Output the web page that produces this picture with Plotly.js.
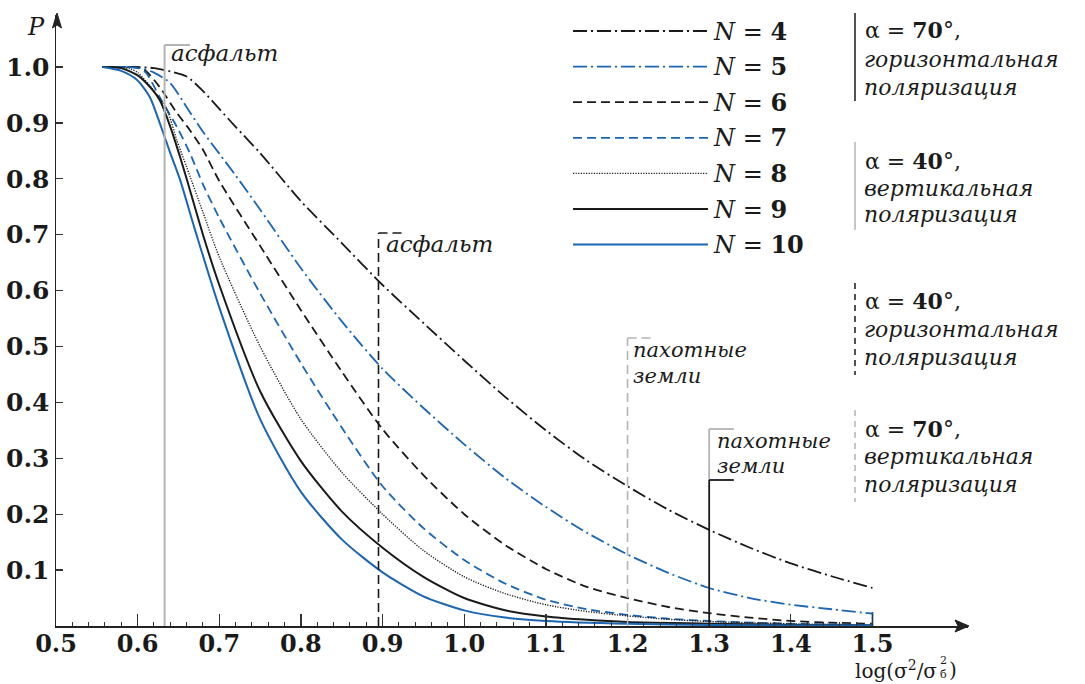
<!DOCTYPE html>
<html>
<head>
<meta charset="utf-8">
<script src="https://cdn.plot.ly/plotly-3.0.1.min.js"></script>
<style>html,body{margin:0;padding:0;background:#fff;}#chart{width:1085px;height:684px;}</style>
</head>
<body>
<div id="chart"></div>
<script>
// ---- data ----
const x4 = [0.557,0.60,0.62,0.64,0.66,0.68,0.70,0.72,0.75,0.80,0.85,0.90,0.95,1.00,1.05,1.10,1.15,1.20,1.25,1.30,1.35,1.40,1.45,1.50];
const y4 = [1.0,1.0,0.998,0.992,0.983,0.957,0.925,0.893,0.846,0.760,0.685,0.610,0.542,0.475,0.410,0.350,0.296,0.250,0.208,0.172,0.140,0.112,0.089,0.068];
const x5 = [0.557,0.60,0.62,0.64,0.66,0.68,0.70,0.72,0.75,0.80,0.85,0.90,0.95,1.00,1.05,1.10,1.15,1.20,1.25,1.30,1.35,1.40,1.45,1.50];
const y5 = [1.0,0.999,0.99,0.971,0.928,0.884,0.845,0.806,0.745,0.64,0.545,0.46,0.39,0.325,0.265,0.213,0.167,0.128,0.095,0.068,0.05,0.038,0.03,0.022];
const x6 = [0.557,0.60,0.61,0.627,0.648,0.664,0.68,0.70,0.75,0.80,0.85,0.90,0.95,1.00,1.05,1.10,1.15,1.20,1.25,1.30,1.35,1.40,1.45,1.50];
const y6 = [1.0,0.999,0.993,0.964,0.918,0.887,0.852,0.796,0.68,0.565,0.455,0.352,0.27,0.2,0.145,0.102,0.07,0.05,0.034,0.023,0.015,0.009,0.006,0.004];
const x7 = [0.557,0.60,0.61,0.627,0.648,0.664,0.68,0.70,0.75,0.80,0.85,0.90,0.95,1.00,1.05,1.10,1.15,1.20,1.25,1.30,1.40,1.50];
const y7 = [1.0,0.998,0.99,0.946,0.893,0.846,0.79,0.73,0.595,0.47,0.355,0.25,0.175,0.118,0.076,0.047,0.03,0.02,0.013,0.009,0.004,0.002];
const x8 = [0.557,0.59,0.60,0.619,0.636,0.648,0.66,0.68,0.70,0.75,0.80,0.85,0.90,0.95,1.00,1.05,1.10,1.15,1.20,1.25,1.30,1.40,1.50];
const y8 = [1.0,0.997,0.99,0.959,0.923,0.869,0.821,0.74,0.66,0.50,0.37,0.275,0.2,0.135,0.088,0.058,0.038,0.026,0.018,0.012,0.008,0.004,0.002];
const x9 = [0.557,0.58,0.60,0.611,0.627,0.64,0.652,0.66,0.68,0.70,0.75,0.80,0.85,0.90,0.95,1.00,1.05,1.10,1.15,1.20,1.30,1.40,1.50];
const y9 = [1.0,0.998,0.985,0.971,0.941,0.893,0.839,0.80,0.70,0.61,0.42,0.295,0.205,0.14,0.088,0.05,0.028,0.017,0.011,0.007,0.004,0.002,0.001];
const x10 = [0.557,0.58,0.599,0.615,0.627,0.64,0.652,0.67,0.70,0.75,0.80,0.85,0.90,0.95,1.00,1.05,1.10,1.20,1.30,1.40,1.50];
const y10 = [1.0,0.993,0.977,0.946,0.90,0.846,0.798,0.71,0.57,0.37,0.24,0.155,0.096,0.053,0.028,0.015,0.009,0.004,0.002,0.001,0.001];
const edgeX = [1.5, 1.5];
const edgeY = [0.0, 0.025];

const seriesNames = ['N = 4','N = 5','N = 6','N = 7','N = 8','N = 9','N = 10'];
const xTickVals = [0.5,0.6,0.7,0.8,0.9,1.0,1.1,1.2,1.3,1.4,1.5];
const xTickText = ['0.5','0.6','0.7','0.8','0.9','1.0','1.1','1.2','1.3','1.4','1.5'];
const yTickVals = [0.1,0.2,0.3,0.4,0.5,0.6,0.7,0.8,0.9,1.0];
const yTickText = ['0.1','0.2','0.3','0.4','0.5','0.6','0.7','0.8','0.9','1.0'];
// vertical markers: surface type at x positions
const asphalt70H = 0.633, asphalt40V = 0.895, arable40H = 1.2, arable70V = 1.3;

// ---- styles ----
const BLK = '#1a1a1a', BLU = '#1a66b2', GRY = '#b4b4b4';
const styles = [
  {color:BLK, width:1.8, dash:'14px,4px,2px,4px'},
  {color:BLU, width:1.8, dash:'14px,4px,2px,4px'},
  {color:BLK, width:1.8, dash:'9px,5px'},
  {color:BLU, width:1.8, dash:'9px,5px'},
  {color:BLK, width:1.4, dash:'1.2px,1.4px'},
  {color:BLK, width:2.0, dash:'solid'},
  {color:BLU, width:2.0, dash:'solid'}
];
const xs = [x4,x5,x6,x7,x8,x9,x10], ys = [y4,y5,y6,y7,y8,y9,y10];
const traces = xs.map((x,i)=>({x:x, y:ys[i], type:'scatter', mode:'lines', name:seriesNames[i],
  line:{color:styles[i].color, width:styles[i].width, dash:styles[i].dash, shape:'spline', smoothing:0.7},
  showlegend:false, hoverinfo:'skip'}));
traces.push({x:edgeX, y:edgeY, type:'scatter', mode:'lines', line:{color:BLU, width:1.8}, showlegend:false, hoverinfo:'skip'});

// pixel -> paper helpers (plot area: left 56, top 15, width 912, height 611)
const PX = p => (p-56)/912, PY = p => (626-p)/611;

const shapes = [];
const annotations = [];
const F = 'DejaVu Serif';

// legend
const legY0 = 31, legDY = 35.6;
seriesNames.forEach((nm,i)=>{
  const y = legY0 + legDY*i;
  shapes.push({type:'line', xref:'paper', yref:'paper', x0:PX(573), x1:PX(708), y0:PY(y), y1:PY(y),
    line:{color:styles[i].color, width:styles[i].width, dash:styles[i].dash}});
  const num = nm.split('= ')[1];
  annotations.push({xref:'paper', yref:'paper', x:PX(711), y:PY(y), xanchor:'left', yanchor:'middle', showarrow:false,
    text:'<i>N</i> = <b>'+num+'</b>', font:{family:F, size:24, color:BLK}});
});

// vertical markers
const yDat = p => (626-p)/559;
const xDat = p => 0.5 + (p-56)/816.7;
shapes.push({type:'line', xref:'x', yref:'y', x0:asphalt70H, x1:asphalt70H, y0:0, y1:yDat(45), line:{color:GRY, width:2}});
shapes.push({type:'line', xref:'x', yref:'y', x0:asphalt70H, x1:xDat(190), y0:yDat(45), y1:yDat(45), line:{color:GRY, width:2}});
shapes.push({type:'line', xref:'x', yref:'y', x0:asphalt40V, x1:asphalt40V, y0:0, y1:yDat(233), line:{color:BLK, width:1.6, dash:'9px,5px'}});
shapes.push({type:'line', xref:'x', yref:'y', x0:asphalt40V, x1:xDat(403), y0:yDat(233), y1:yDat(233), line:{color:BLK, width:1.6, dash:'9px,5px'}});
shapes.push({type:'line', xref:'x', yref:'y', x0:arable40H, x1:arable40H, y0:0, y1:yDat(338), line:{color:GRY, width:1.6, dash:'9px,5px'}});
shapes.push({type:'line', xref:'x', yref:'y', x0:arable40H, x1:xDat(652), y0:yDat(338), y1:yDat(338), line:{color:GRY, width:1.6, dash:'9px,5px'}});
shapes.push({type:'line', xref:'x', yref:'y', x0:arable70V, x1:arable70V, y0:yDat(480), y1:yDat(429), line:{color:GRY, width:1.8}});
shapes.push({type:'line', xref:'x', yref:'y', x0:arable70V, x1:xDat(734), y0:yDat(429), y1:yDat(429), line:{color:GRY, width:1.8}});
shapes.push({type:'line', xref:'x', yref:'y', x0:arable70V, x1:arable70V, y0:0, y1:yDat(480), line:{color:BLK, width:1.8}});
shapes.push({type:'line', xref:'x', yref:'y', x0:arable70V, x1:xDat(734), y0:yDat(480), y1:yDat(480), line:{color:BLK, width:1.8}});

const lab = (px,py,txt,size) => annotations.push({xref:'paper', yref:'paper', x:PX(px), y:PY(py), xanchor:'left', yanchor:'middle', align:'left', showarrow:false,
  text:txt, font:{family:F, size:size||23, color:BLK}});
lab(169,53,'<i>асфальт</i>',23);
lab(384,244,'<i>асфальт</i>',23);
lab(631,350,'<i>пахотные</i>',21);
lab(631,376,'<i>земли</i>',21);
lab(715,441,'<i>пахотные</i>',21);
lab(715,466,'<i>земли</i>',21);

// right-hand legend blocks
const blocks = [
  {y0:13, y1:101, color:BLK, dash:'solid', ang:'70', pol:'горизонтальная', ty:[30,59,87]},
  {y0:142, y1:230, color:GRY, dash:'solid', ang:'40', pol:'вертикальная', ty:[161,188,215]},
  {y0:283, y1:375, color:BLK, dash:'6px,5px', ang:'40', pol:'горизонтальная', ty:[301,329,357]},
  {y0:410, y1:502, color:GRY, dash:'6px,5px', ang:'70', pol:'вертикальная', ty:[429,457,485]}
];
blocks.forEach(b=>{
  shapes.push({type:'line', xref:'paper', yref:'paper', x0:PX(855), x1:PX(855), y0:PY(b.y0), y1:PY(b.y1), line:{color:b.color, width:1.5, dash:b.dash}});
  lab(863,b.ty[0],'α = <b>'+b.ang+'</b>°,',22);
  lab(862,b.ty[1],'<i>'+b.pol+'</i>',22);
  lab(862,b.ty[2],'<i>поляризация</i>',22);
});

// axis arrowheads
shapes.push({type:'path', xref:'paper', yref:'paper', path:`M ${PX(969)} ${PY(626)} L ${PX(955)} ${PY(620)} L ${PX(958)} ${PY(626)} L ${PX(955)} ${PY(632)} Z`, fillcolor:'#222', line:{color:'#222', width:1}});
shapes.push({type:'path', xref:'paper', yref:'paper', path:`M ${PX(57)} ${PY(13)} L ${PX(52.5)} ${PY(28)} L ${PX(57)} ${PY(25)} L ${PX(61.5)} ${PY(28)} Z`, fillcolor:'#222', line:{color:'#222', width:1}});

// axis titles
lab(25,27,'<i>P</i>',24);
const TITLE_Y = 670;
annotations.push({xref:'paper', yref:'paper', x:PX(853), y:PY(TITLE_Y), xanchor:'left', yanchor:'middle', showarrow:false,
  text:'log(σ<sup>2</sup>/σ', font:{family:F, size:20, color:BLK}});

const minorVals = [];
for (let k = 26; k <= 75; k++) { if (k % 5 !== 0) minorVals.push(k/50); }

const layout = {
  width:1085, height:684,
  margin:{l:56, r:117, t:15, b:58, pad:0},
  paper_bgcolor:'#fff', plot_bgcolor:'#fff',
  showlegend:false,
  xaxis:{range:[0.5,1.617], showgrid:false, zeroline:false, showline:true, linecolor:'#222', linewidth:1.5,
    ticks:'inside', ticklen:12, tickwidth:1.3, tickcolor:'#333', tickmode:'array', tickvals:xTickVals, ticktext:xTickText,
    ticklabelstandoff:-4,
    tickfont:{family:F, size:24, color:BLK, weight:'bold'},
    minor:{tickmode:'array', tickvals:minorVals, ticks:'inside', ticklen:4, tickwidth:1, tickcolor:'#333', showgrid:false}},
  yaxis:{range:[0,1.093], showgrid:false, zeroline:false, showline:true, linecolor:'#222', linewidth:1.5,
    ticks:'inside', ticklen:7, tickwidth:1.3, tickcolor:'#333', tickmode:'array', tickvals:yTickVals, ticktext:yTickText,
    tickfont:{family:F, size:25, color:BLK, weight:'bold'}},
  shapes:shapes, annotations:annotations
};
Plotly.newPlot('chart', traces, layout, {staticPlot:true, displayModeBar:false}).then(gd => {
  // stacked superscript/subscript placed after the measured title text
  const els = Array.from(gd.querySelectorAll('.annotation-text'));
  const el = els.find(t => t.textContent.indexOf('log(') === 0);
  let right = 945;
  if (el) {
    const r = el.getBoundingClientRect();
    const g = gd.getBoundingClientRect();
    right = r.right - g.left;
  }
  const extra = [
    {xref:'paper', yref:'paper', x:PX(right+1), y:PY(TITLE_Y-3), xanchor:'left', yanchor:'middle', showarrow:false, align:'left',
      text:'2<br>б', font:{family:F, size:11, color:BLK}},
    {xref:'paper', yref:'paper', x:PX(right+10), y:PY(TITLE_Y), xanchor:'left', yanchor:'middle', showarrow:false, text:')', font:{family:F, size:20, color:BLK}}
  ];
  return Plotly.relayout(gd, {annotations: annotations.concat(extra)});
});
</script>
</body>
</html>
